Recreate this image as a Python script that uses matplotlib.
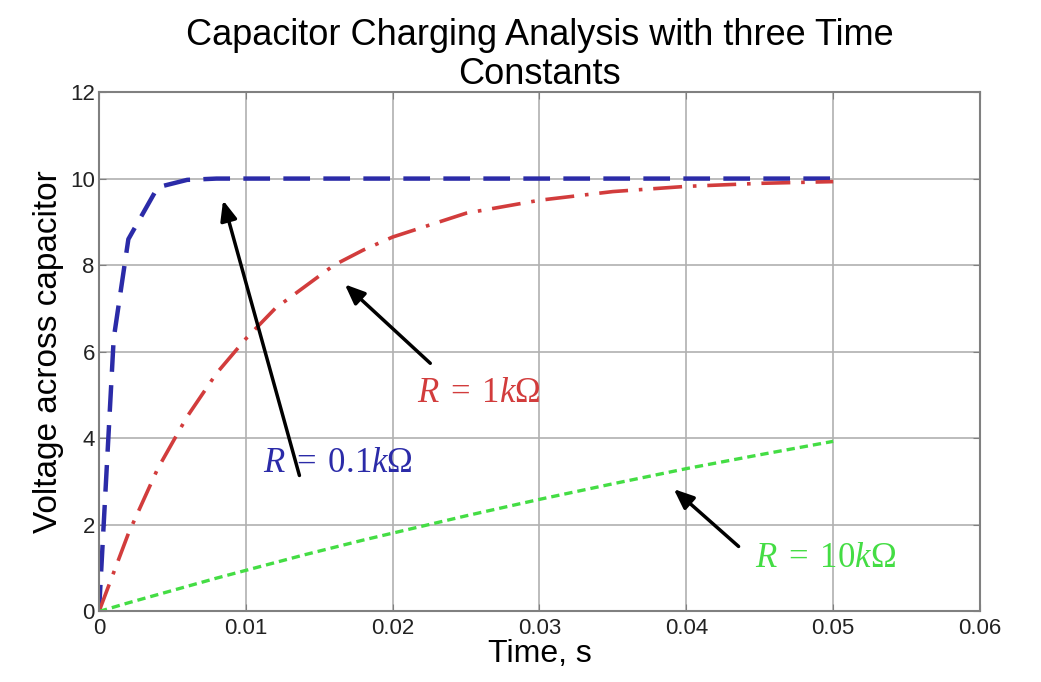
import matplotlib
matplotlib.use("Agg")
import matplotlib.pyplot as plt

# ---- data ----
t_fast = [0, 0.001, 0.002, 0.004, 0.006, 0.008, 0.010, 0.015, 0.020, 0.025, 0.030, 0.035, 0.040, 0.045, 0.050]
v_fast = [0, 6.3, 8.6, 9.8, 9.97, 10.0, 10.0, 10.0, 10.0, 10.0, 10.0, 10.0, 10.0, 10.0, 10.0]

t_mid = [0, 0.002, 0.004, 0.006, 0.008, 0.010, 0.012, 0.014, 0.016, 0.018, 0.020,
         0.025, 0.030, 0.035, 0.040, 0.045, 0.050]
v_mid = [0, 1.8, 3.3, 4.5, 5.5, 6.3, 7.0, 7.5, 8.0, 8.35, 8.65, 9.2, 9.5, 9.7, 9.82, 9.89, 9.93]

t_slow = t_mid
v_slow = [0, 0.2, 0.39, 0.58, 0.77, 0.95, 1.13, 1.31, 1.48, 1.65, 1.81, 2.21, 2.59, 2.95, 3.30, 3.62, 3.93]

x_ticks = [0, 0.01, 0.02, 0.03, 0.04, 0.05, 0.06]
x_ticklabels = ["0", "0.01", "0.02", "0.03", "0.04", "0.05", "0.06"]
y_ticks = [0, 2, 4, 6, 8, 10, 12]

labels = [r"$R\;=\;0.1k\Omega$", r"$R\;=\;1k\Omega$", r"$R\;=\;10k\Omega$"]
label_pos = [(0.0163, 3.45), (0.0259, 5.06), (0.0495, 1.24)]
arrow_tail = [(0.0137, 3.08), (0.0227, 5.69), (0.0437, 1.46)]
arrow_head = [(0.0084, 9.56), (0.0166, 7.6), (0.0390, 2.87)]

title = "Capacitor Charging Analysis with three Time\nConstants"
xlabel = "Time, s"
ylabel = "Voltage across capacitor"

# ---- styling ----
plt.rcParams["font.family"] = ["Liberation Sans", "DejaVu Sans"]
plt.rcParams["mathtext.fontset"] = "custom"
plt.rcParams["mathtext.rm"] = "Liberation Serif"
plt.rcParams["mathtext.it"] = "Liberation Serif:italic"

colors = ["#2b2ba8", "#d23c3c", "#44dd44"]

fig = plt.figure(figsize=(10.41, 6.82), dpi=100)
ax = fig.add_axes([0.0951, 0.1034, 0.8463, 0.7617])

ax.plot(t_fast, v_fast, color=colors[0], lw=3.2, linestyle=(0, (6, 3)))
ax.plot(t_mid, v_mid, color=colors[1], lw=2.6, linestyle=(0, (8, 3, 1, 3)))
ax.plot(t_slow, v_slow, color=colors[2], lw=2.4, linestyle=(0, (2.5, 1.5)))

ax.set_xlim(0, 0.06)
ax.set_ylim(0, 12)
ax.set_xticks(x_ticks)
ax.set_xticklabels(x_ticklabels)
ax.set_yticks(y_ticks)
ax.grid(True, color="#b0b0b0", lw=1.2)
for s in ax.spines.values():
    s.set_color("#808080")
    s.set_linewidth(1.5)
ax.tick_params(direction="in", top=True, right=True, length=5, color="#808080",
               labelsize=16, pad=3, labelcolor="#222222")
ax.tick_params(axis="x", pad=5)

for (lx, ly), (tx, ty), (hx, hy), txt, c in zip(label_pos, arrow_tail, arrow_head, labels, colors):
    ax.annotate("", xy=(hx, hy), xytext=(tx, ty),
                arrowprops=dict(arrowstyle="-|>,head_length=1.2,head_width=0.5", color="black", lw=2.5))
    ax.text(lx, ly, txt, color=c, fontsize=25, ha="center", va="center")

ax.set_title(title, fontsize=26, pad=6, linespacing=1.15)
ax.set_xlabel(xlabel, fontsize=23, labelpad=0)
ax.set_ylabel(ylabel, fontsize=24, labelpad=4)

fig.savefig("out.png", dpi=100)
